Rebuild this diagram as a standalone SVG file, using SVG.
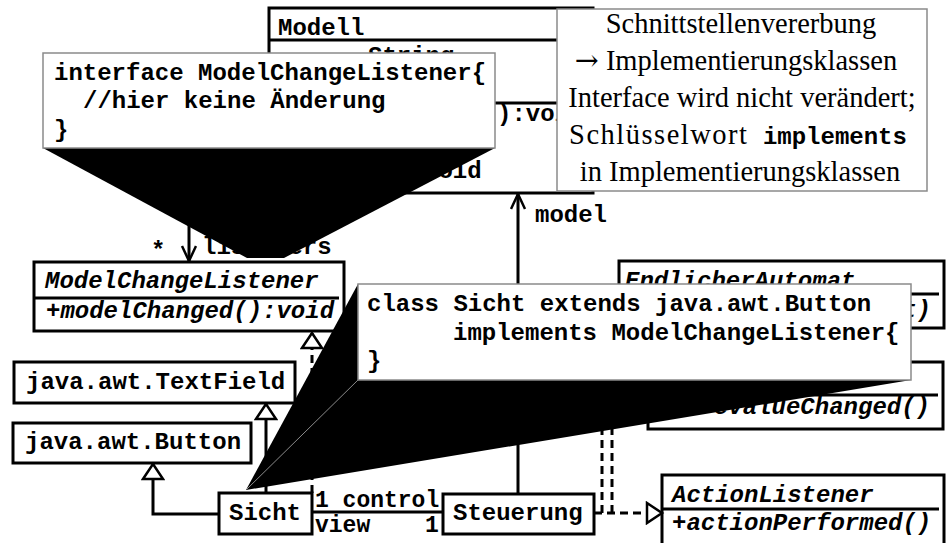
<svg xmlns="http://www.w3.org/2000/svg" width="952" height="543" viewBox="0 0 952 543">
<style>
.box{fill:#fff;stroke:#000;stroke-width:3}
.sep{stroke:#000;stroke-width:3}
.t{font-family:"Liberation Mono","Courier New",monospace;font-weight:bold;font-size:24px;fill:#000}
.s23{font-size:23px}
.ti{font-style:italic}
.ln{fill:none;stroke:#000;stroke-width:3}
.dash{stroke-dasharray:8 5}
.callout{fill:#fff;stroke:#8a8a8a;stroke-width:1.5}
.shadow{fill:#000;stroke:none}
.note{font-family:"Liberation Serif","Times New Roman",serif;font-size:28.5px;fill:#000}
.nm{font-family:"Liberation Mono","Courier New",monospace;font-weight:bold;font-size:24px}
.arr{font-family:"DejaVu Serif","Liberation Serif",serif}
</style>
<defs>
<marker id="open" viewBox="0 0 18 18" refX="16" refY="8" markerWidth="18" markerHeight="18" markerUnits="userSpaceOnUse" orient="auto">
<path d="M1,1 L16,8 L1,15" fill="none" stroke="#000" stroke-width="2.5"/>
</marker>
<marker id="tri" viewBox="-2 -2 20 24" refX="15" refY="10" markerWidth="20" markerHeight="24" markerUnits="userSpaceOnUse" orient="auto">
<path d="M0,0 L15,10 L0,20 Z" fill="#fff" stroke="#000" stroke-width="2.5"/>
</marker>
<clipPath id="cStr"><rect x="269" y="8" width="280" height="45"/></clipPath>
<clipPath id="cVo"><rect x="440" y="90" width="117" height="40"/></clipPath>
<clipPath id="cEA"><rect x="619" y="261" width="325" height="23"/></clipPath>
<clipPath id="cT"><rect x="911" y="294" width="33" height="34"/></clipPath>
</defs>
<rect width="952" height="543" fill="#fff"/>

<g id="modell">
<rect class="box" x="269" y="8" width="324" height="185"/>
<line class="sep" x1="269" y1="40" x2="593" y2="40"/>
<line class="sep" x1="269" y1="103" x2="593" y2="103"/>
<text class="t" x="278" y="35">Modell</text>
<text class="t" x="368" y="63" clip-path="url(#cStr)">String</text>
<text class="t" x="497" y="121" clip-path="url(#cVo)">):void</text>
<text class="t" x="424" y="178">void</text>
</g>

<g id="modelchangelistener">
<rect class="box" x="34" y="262" width="310" height="69"/>
<line class="sep" x1="34" y1="298" x2="339" y2="298"/>
<text class="t ti" x="45" y="288">ModelChangeListener</text>
<text class="t ti" x="46" y="318">+modelChanged():void</text>
</g>

<g id="textfield">
<rect class="box" x="14" y="362" width="281" height="41"/>
<text class="t" x="26" y="389">java.awt.TextField</text>
</g>

<g id="button">
<rect class="box" x="13" y="423" width="238" height="40"/>
<text class="t" x="25" y="449">java.awt.Button</text>
</g>

<g id="sicht">
<rect class="box" x="219" y="493" width="93" height="41"/>
<text class="t" x="229" y="520">Sicht</text>
</g>

<g id="steuerung">
<rect class="box" x="443" y="494" width="151" height="40"/>
<text class="t" x="453" y="520">Steuerung</text>
</g>

<g id="endlicherautomat">
<rect class="box" x="619" y="261" width="325" height="67"/>
<line class="sep" x1="619" y1="294" x2="939" y2="294"/>
<text class="t ti" x="625" y="288" clip-path="url(#cEA)">EndlicherAutomat</text>
<text class="t ti" x="931" y="317" text-anchor="end" clip-path="url(#cT)">t)</text>
</g>

<g id="valuelistener">
<rect class="box" x="648" y="362" width="295" height="67"/>
<line class="sep" x1="648" y1="395" x2="938" y2="395"/>
<text class="t ti" x="930" y="414" text-anchor="end">evalueChanged()</text>
</g>

<g id="actionlistener">
<rect class="box" x="662" y="475" width="282" height="90"/>
<line class="sep" x1="662" y1="509" x2="939" y2="509"/>
<text class="t ti" x="672" y="502">ActionListener</text>
<text class="t ti" x="672" y="530">+actionPerformed()</text>
</g>

<g id="connectors">
<path class="ln" d="M189,193 L189,261" marker-end="url(#open)"/>
<path class="ln" d="M518,493 L518,194" marker-end="url(#open)"/>
<path class="ln dash" d="M312,493 L312,333" marker-end="url(#tri)"/>
<path class="ln" d="M266,493 L266,404" marker-end="url(#tri)"/>
<path class="ln" d="M219,514 L153,514 L153,464" marker-end="url(#tri)"/>
<path class="ln" d="M312,512 L443,512"/>
<path class="ln dash" d="M594,513 L662,513" marker-end="url(#tri)"/>
<path class="ln dash" d="M602,513 L602,390"/>
<path class="ln dash" d="M612,513 L612,390"/>
<text class="t" x="151" y="258">*</text>
<text class="t" x="202" y="254">listeners</text>
<text class="t" x="535" y="222">model</text>
<text class="t s23" x="315" y="507">1 control</text>
<text class="t s23" x="315" y="532">view</text>
<text class="t s23" x="425" y="532">1</text>
</g>

<g id="note">
<rect class="callout" x="557" y="9" width="370" height="182"/>
<text class="note" x="741" y="33" text-anchor="middle">Schnittstellenvererbung</text>
<text class="note" x="736" y="70" text-anchor="middle"><tspan class="arr">→</tspan> Implementierungsklassen</text>
<text class="note" x="742" y="107" text-anchor="middle">Interface wird nicht verändert;</text>
<text class="note" x="738" y="144" text-anchor="middle"><tspan letter-spacing="1.5">Schlüsselwort</tspan><tspan class="nm"> implements</tspan></text>
<text class="note" x="740" y="181" text-anchor="middle">in Implementierungsklassen</text>
</g>

<g id="callout-interface">
<polygon class="shadow" points="43,148 247,258 284,258 495,148"/>
<rect class="callout" x="43" y="53" width="452" height="95"/>
<text class="t" x="54" y="80">interface ModelChangeListener{</text>
<text class="t" x="83" y="108">//hier keine Änderung</text>
<text class="t" x="54" y="137">}</text>
</g>

<g id="callout-sicht">
<polygon class="shadow" points="358,284 246,490 911,380"/>
<line x1="358" y1="380" x2="247" y2="489" stroke="#8a8a8a" stroke-width="1"/>
<rect class="callout" x="358" y="284" width="553" height="96"/>
<text class="t" x="367" y="311">class Sicht extends java.awt.Button</text>
<text class="t" x="453" y="340">implements ModelChangeListener{</text>
<text class="t" x="367" y="368">}</text>
</g>
</svg>
